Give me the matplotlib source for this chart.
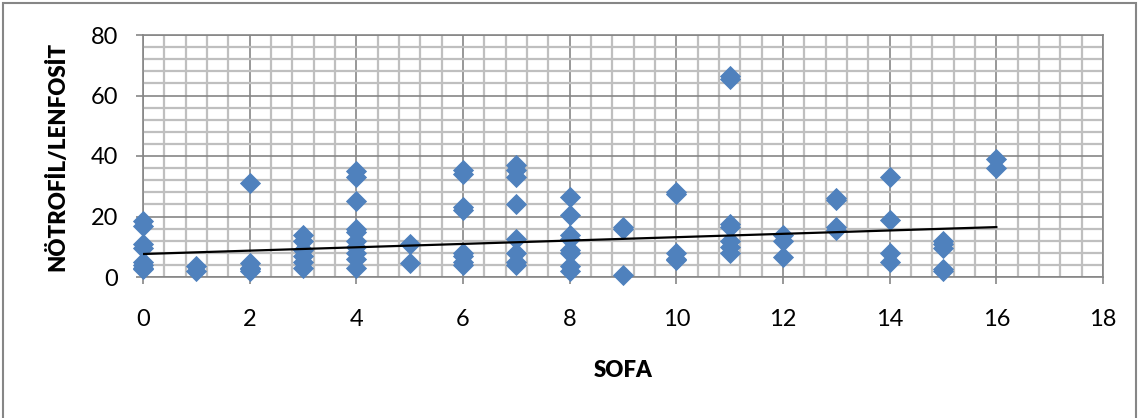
import numpy as np
import matplotlib
matplotlib.use("Agg")
import matplotlib.pyplot as plt
from matplotlib.ticker import MultipleLocator
from matplotlib.patches import Rectangle

plt.rcParams['font.family'] = ['Lato', 'DejaVu Sans']

# SOFA skoru ve nötrofil/lenfosit oranı
sofa = ([0] * 8 + [1] * 2 + [2] * 5 + [3] * 6 + [4] * 10 + [5] * 2 + [6] * 8
        + [7] * 8 + [8] * 8 + [9] * 3 + [10] * 5 + [11] * 7 + [12] * 3
        + [13] * 4 + [14] * 4 + [15] * 5 + [16] * 2)
nlr = [18.5, 17, 11, 9.5, 5, 4, 3, 2.5,
       3.5, 2,
       31, 4.5, 3, 2.5, 2,
       14, 12, 9, 7, 5, 3,
       35, 33, 25, 16, 15, 12, 10, 8, 6, 3,
       11, 4.5,
       35.5, 34, 23, 22, 8, 7, 5, 4,
       37, 35.5, 33, 24, 12.5, 8, 5, 4,
       26.5, 20.5, 14, 12.5, 9, 8, 3.5, 2,
       16.5, 16, 0.5,
       28, 27.5, 8, 6, 5.5,
       66.5, 65.5, 17.5, 16.5, 12, 10, 8,
       14, 12, 6.5,
       26, 25.5, 16.5, 15.5,
       33, 19, 8, 5,
       12, 11, 9.5, 2.5, 2,
       39, 36]

# Excel'in çizdiği doğrusal eğilim çizgisi
trend_intercept = 7.6
trend_slope = 0.556

x_label = 'SOFA'
y_label = 'NÖTROFİL/LENFOSİT'

fig = plt.figure(figsize=(11.4, 4.18), dpi=100)
ax = fig.add_axes([143 / 1140, 1 - 277 / 418, 960 / 1140, 242 / 418])

ax.scatter(sofa, nlr, marker='D', s=10.8 ** 2, color='#4F81BD',
           linewidths=0, zorder=3, clip_on=False)

xs = np.array([min(sofa), max(sofa)])
ax.plot(xs, trend_intercept + trend_slope * xs, color='black', lw=1.6, zorder=4)

ax.set_xlim(0, 18)
ax.set_ylim(0, 80)
ax.xaxis.set_major_locator(MultipleLocator(2))
ax.xaxis.set_minor_locator(MultipleLocator(0.4))
ax.yaxis.set_major_locator(MultipleLocator(20))
ax.yaxis.set_minor_locator(MultipleLocator(4))

ax.grid(which='minor', color='#BFBFBF', lw=1.6)
ax.grid(which='major', color='#868686', lw=1.2)
ax.set_axisbelow(True)
for s in ax.spines.values():
    s.set_color('#868686')
    s.set_linewidth(1.2)

ax.tick_params(which='minor', length=0)
ax.tick_params(axis='y', which='major', length=5, width=1.2, color='#868686',
               pad=13, labelsize=17)
ax.tick_params(axis='x', which='major', length=5, width=1.2, color='#868686',
               pad=18, labelsize=17)

ax.set_xlabel(x_label, fontsize=16, fontweight='heavy', va='center')
ax.xaxis.set_label_coords(0.5, (277 - 371) / 242)
ax.set_ylabel(y_label, fontsize=16, fontweight='heavy', va='center')
ax.yaxis.set_label_coords((57 - 143) / 960, 0.5)

fig.patches.append(Rectangle((3 / 1140, -0.01), 1133 / 1140, 1 - 3 / 418 + 0.01,
                             transform=fig.transFigure, fill=False,
                             edgecolor='#868686', lw=1.5))

fig.savefig('out.png', dpi=100)
